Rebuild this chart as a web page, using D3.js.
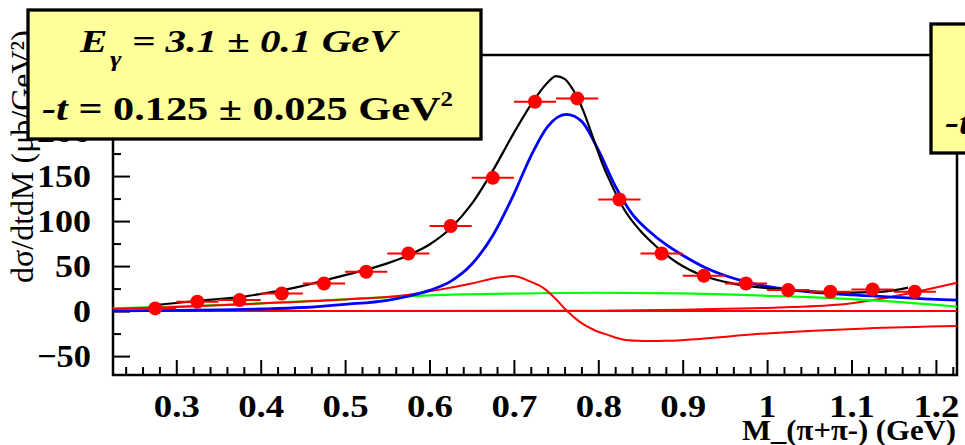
<!DOCTYPE html>
<html>
<head>
<meta charset="utf-8">
<script src="https://cdn.jsdelivr.net/npm/d3@7"></script>
<style>
  body { margin: 0; background: #fff; }
  svg { display: block; }
  text { font-family: "Liberation Serif", "Times New Roman", serif; }
</style>
</head>
<body>
<div id="chart"></div>
<script>
// measured points: M(pi+pi-) bin centres and cross section
let massBins = [0.275, 0.325, 0.375, 0.425, 0.475, 0.525, 0.575, 0.625, 0.675, 0.725,
                0.775, 0.825, 0.875, 0.925, 0.975, 1.025, 1.075, 1.125, 1.175];
let xsec = [3.0, 10.3, 12.2, 19.6, 30.7, 43.7, 64, 94.6, 148, 232.6,
            236.3, 124, 64, 39.3, 30.7, 23.3, 21.5, 24.1, 21.5];
let binHalf = 0.025;

// total fit (black)
let totalX = [0.275, 0.3, 0.325, 0.35, 0.375, 0.4, 0.425, 0.45, 0.475, 0.5, 0.525, 0.55, 0.575, 0.6,
              0.625, 0.65, 0.675, 0.7, 0.725, 0.74, 0.75, 0.76, 0.77, 0.782, 0.794, 0.806, 0.818,
              0.83, 0.849, 0.869, 0.893, 0.925, 0.95, 0.975, 1.0, 1.025, 1.05, 1.075, 1.1, 1.125,
              1.15, 1.167];
let totalY = [6.7, 9, 11.3, 13.3, 15.5, 19, 23, 28, 34, 40, 46, 53, 62, 74,
              92, 119, 156, 198, 236, 254, 261, 258, 246, 223, 192, 161, 136,
              114, 90, 71.5, 54, 39, 32.5, 28, 25.5, 23.5, 22, 21, 20.6, 21,
              23, 26];

// rho (blue)
let rhoX = [0.225, 0.3, 0.35, 0.4, 0.45, 0.5, 0.55, 0.575, 0.6, 0.625, 0.65, 0.675, 0.7, 0.72, 0.74,
            0.762, 0.78, 0.8, 0.82, 0.84, 0.86, 0.88, 0.9, 0.925, 0.95, 0.975, 1.0,
            1.05, 1.1, 1.15, 1.2, 1.225];
let rhoY = [0.3, 0.8, 1.3, 2.3, 4, 7.5, 12, 16.5, 23, 33, 52, 84, 130, 172, 205,
            218.5, 211, 179, 139, 108, 89, 74, 62, 49, 39.5, 32.5, 27.5,
            21.5, 18, 15.5, 13, 12.2];

// background (green)
let bkgX = [0.225, 0.3, 0.4, 0.5, 0.55, 0.6, 0.7, 0.8, 0.9, 0.95, 1.0, 1.05, 1.1, 1.15, 1.2, 1.225];
let bkgY = [3, 5, 8.5, 13, 15.5, 17.5, 19.5, 20.4, 19.6, 18.5, 17, 15.5, 13.2, 10.5, 7, 5];

// interference (red)
let interfX = [0.225, 0.3, 0.4, 0.5, 0.565, 0.607, 0.65, 0.68, 0.699, 0.719, 0.736, 0.749, 0.763,
               0.778, 0.795, 0.812, 0.829, 0.846, 0.863, 0.881, 0.999, 1.117, 1.225];
let interfY = [2.5, 4.5, 8.5, 13, 17, 23, 30.7, 37, 38.9, 33, 25, 14, 0,
               -12, -21, -26.7, -31.5, -33, -33.3, -33, -24.8, -19.3, -16.7];

// second red component
let extraX = [0.225, 0.8, 0.9, 0.95, 1.0, 1.03, 1.098, 1.137, 1.177, 1.225];
let extraY = [0, 0.5, 1.5, 2.5, 3.5, 4.5, 8.5, 14, 21.5, 31.5];

let xMajor = [0.3, 0.4, 0.5, 0.6, 0.7, 0.8, 0.9, 1.0, 1.1, 1.2];
let yMajor = [-50, 0, 50, 100, 150, 200, 250];
let yMinor = [-25, 25, 75, 125, 175, 225, 275];

let W = 965, H = 445;
let frame = { left: 113, right: 957, top: 55, bottom: 375 };

let svg = d3.select("#chart").append("svg")
    .attr("width", W)
    .attr("height", H);

svg.append("rect").attr("width", W).attr("height", H).attr("fill", "#fff");

let x = d3.scaleLinear().domain([0.225, 1.225]).range([frame.left, frame.right]);
let y = d3.scaleLinear().domain([-71, 284.5]).range([frame.bottom, frame.top]);

// minor x ticks every 0.02
let xMinor = d3.range(12, 62).map(function (i) { return +(i * 0.02).toFixed(2); })
    .filter(function (v) { return xMajor.indexOf(v) < 0 && v > 0.225 && v < 1.225; });

// the original labels are set wider than Times; give each glyph a fixed advance
function labelWidth(s) {
    let w = 0;
    for (let c of s) w += (c === ".") ? 10 : (c === "-") ? 12 : 18;
    return w;
}
function widen(sel) {
    sel.each(function () {
        let s = d3.select(this);
        s.attr("textLength", labelWidth(s.text())).attr("lengthAdjust", "spacingAndGlyphs");
    });
}

// frame
svg.append("rect")
    .attr("x", frame.left).attr("y", frame.top)
    .attr("width", frame.right - frame.left).attr("height", frame.bottom - frame.top)
    .attr("fill", "none").attr("stroke", "#000").attr("stroke-width", 2.5);

// x axis
let gx = svg.append("g")
    .attr("transform", `translate(0,${frame.bottom})`)
    .call(d3.axisBottom(x).tickValues(xMajor).tickSize(-15).tickPadding(19)
        .tickFormat(function (d) { return d === 1 ? "1" : d3.format(".1f")(d); }));
gx.select(".domain").remove();
gx.selectAll("line").attr("stroke-width", 2);
gx.selectAll("text")
    .attr("font-size", 32).attr("font-weight", "bold")
    .attr("fill", "#000").attr("font-family", "Liberation Serif")
    .call(widen);

let gxm = svg.append("g")
    .attr("transform", `translate(0,${frame.bottom})`)
    .call(d3.axisBottom(x).tickValues(xMinor).tickSize(-8).tickFormat(""));
gxm.select(".domain").remove();
gxm.selectAll("line").attr("stroke-width", 2);

// y axis
let gy = svg.append("g")
    .attr("transform", `translate(${frame.left},0)`)
    .call(d3.axisLeft(y).tickValues(yMajor).tickSize(-17).tickPadding(22));
gy.select(".domain").remove();
gy.selectAll("line").attr("stroke-width", 2);
gy.selectAll("text")
    .attr("font-size", 32).attr("font-weight", "bold")
    .attr("fill", "#000").attr("font-family", "Liberation Serif")
    .call(widen);

let gym = svg.append("g")
    .attr("transform", `translate(${frame.left},0)`)
    .call(d3.axisLeft(y).tickValues(yMinor).tickSize(-8).tickFormat(""));
gym.select(".domain").remove();
gym.selectAll("line").attr("stroke-width", 2);

// axis titles
svg.append("text")
    .attr("transform", "translate(33,283) rotate(-90)")
    .attr("font-size", 32)
    .text("dσ/dtdM (μb/GeV²)");

svg.append("text")
    .attr("x", 956).attr("y", 440)
    .attr("text-anchor", "end")
    .attr("font-size", 29).attr("font-weight", "bold")
    .attr("textLength", 214).attr("lengthAdjust", "spacingAndGlyphs")
    .text("M_(π+π-) (GeV)");

// curves
let line = d3.line()
    .curve(d3.curveMonotoneX)
    .x(function (d) { return x(d[0]); })
    .y(function (d) { return y(d[1]); });

function drawCurve(xs, ys, color, width) {
    svg.append("path")
        .datum(d3.zip(xs, ys))
        .attr("fill", "none")
        .attr("stroke", color)
        .attr("stroke-width", width)
        .attr("d", line);
}

drawCurve([0.225, 1.225], [0, 0], "#ff0000", 2);
drawCurve(extraX, extraY, "#ff0000", 2);
drawCurve(bkgX, bkgY, "#00ff00", 2.2);
drawCurve(interfX, interfY, "#ff0000", 2);
drawCurve(rhoX, rhoY, "#0000ff", 2.8);
drawCurve(totalX, totalY, "#000000", 2.2);

// data points with horizontal error bars
let pts = d3.zip(massBins, xsec);
svg.selectAll(".ebar")
    .data(pts)
    .enter()
    .append("line")
    .attr("class", "ebar")
    .attr("x1", function (d) { return x(d[0] - binHalf); })
    .attr("x2", function (d) { return x(d[0] + binHalf); })
    .attr("y1", function (d) { return y(d[1]); })
    .attr("y2", function (d) { return y(d[1]); })
    .attr("stroke", "#ff0000")
    .attr("stroke-width", 2);

svg.selectAll(".pt")
    .data(pts)
    .enter()
    .append("circle")
    .attr("class", "pt")
    .attr("cx", function (d) { return x(d[0]); })
    .attr("cy", function (d) { return y(d[1]); })
    .attr("r", 7)
    .attr("fill", "#ff0000");

// label boxes (second one belongs to the neighbouring pad)
function drawBox(dx, dy) {
    let g = svg.append("g").attr("transform", `translate(${dx},${dy})`);
    g.append("rect")
        .attr("x", 28).attr("y", 10)
        .attr("width", 453).attr("height", 129)
        .attr("fill", "#ffff99")
        .attr("stroke", "#000").attr("stroke-width", 3.3);

    let t1 = g.append("text")
        .attr("x", 80).attr("y", 52)
        .attr("font-size", 31).attr("font-weight", "bold").attr("font-style", "italic")
        .attr("textLength", 317).attr("lengthAdjust", "spacingAndGlyphs");
    t1.append("tspan").text("E");
    t1.append("tspan").attr("dy", 14).attr("dx", 2).attr("font-size", 21).text("γ");
    t1.append("tspan").attr("dy", -14).text(" = 3.1 ± 0.1 GeV");

    let t2 = g.append("text")
        .attr("x", 42).attr("y", 120)
        .attr("font-size", 34).attr("font-weight", "bold")
        .attr("textLength", 411).attr("lengthAdjust", "spacingAndGlyphs");
    t2.append("tspan").attr("font-style", "italic").text("-t");
    t2.append("tspan").text(" = 0.125 ± 0.025 GeV");
    t2.append("tspan").attr("dy", -14).attr("font-size", 20).text("2");
}

drawBox(0, 0);
drawBox(903, 14);
</script>
</body>
</html>
